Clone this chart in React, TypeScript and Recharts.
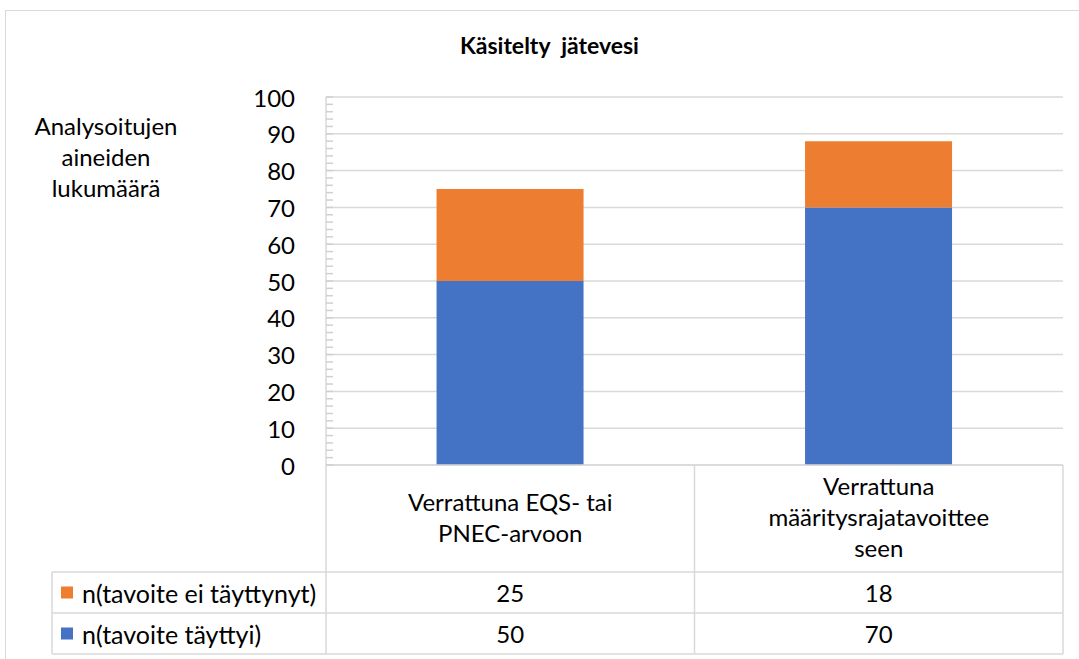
import { Bar, BarChart, CartesianGrid, XAxis, YAxis } from "recharts";

const categories = ["Verrattuna EQS- tai\nPNEC-arvoon", "Verrattuna\nmääritysrajatavoittee\nseen"];
const metValues = [50, 70];
const notMetValues = [25, 18];
const seriesNames = ["n(tavoite ei täyttynyt)", "n(tavoite täyttyi)"];
const yTicks = [0, 10, 20, 30, 40, 50, 60, 70, 80, 90, 100];
const minorTicks = [
  0, 2, 4, 6, 8, 10, 12, 14, 16, 18, 20, 22, 24, 26, 28, 30, 32, 34, 36, 38, 40, 42, 44, 46, 48, 50,
  52, 54, 56, 58, 60, 62, 64, 66, 68, 70, 72, 74, 76, 78, 80, 82, 84, 86, 88, 90, 92, 94, 96, 98, 100,
];

const data = categories.map((category, i) => ({
  category,
  met: metValues[i],
  notMet: notMetValues[i],
}));

const W = 1079;
const H = 659;
const Y_AXIS_W = 60;
const M = { top: 97, right: 16, bottom: 0, left: 326 - Y_AXIS_W };
const BAND = (W - 326 - M.right) / categories.length;
const FONT = "Lato, 'Open Sans', sans-serif";
const FS = 24;
const GRID = "#d9d9d9";
const BLUE = "#4472C4";
const ORANGE = "#ED7D31";
const LEGEND_LEFT = 52;

// rows of the data table, top to bottom
const tableRows = [
  { name: seriesNames[0], color: ORANGE, values: notMetValues },
  { name: seriesNames[1], color: BLUE, values: metValues },
];

// y axis: minor tick marks inside the plot every 2, labels every 10
function YTick(props: any) {
  const { x, y, payload } = props;
  const v = Number(payload.value);
  return (
    <g>
      <line x1={x} y1={y} x2={x + 7} y2={y} stroke="#d0d0d0" strokeWidth={1.5} />
      {yTicks.includes(v) && (
        <text
          x={x - 31}
          y={y}
          textAnchor="end"
          dominantBaseline="central"
          fontFamily={FONT}
          fontSize={FS}
          fill="#000"
        >
          {v}
        </text>
      )}
    </g>
  );
}

function TableTick(props: any) {
  const { x, y, payload } = props;
  const idx = categories.indexOf(payload.value);
  const half = BAND / 2;
  const left = x - half;
  const right = x + half;
  const lines = String(payload.value).split("\n");
  const catH = 107;
  const rowH = 41;
  const lineH = 31;
  const mid = y + catH / 2;
  const tableBottom = y + catH + rowH * tableRows.length;
  const lineStyle = { stroke: GRID, strokeWidth: 1.5 };
  return (
    <g>
      {idx === 0 && <line x1={left} y1={y} x2={left} y2={tableBottom} {...lineStyle} />}
      <line x1={right} y1={y} x2={right} y2={tableBottom} {...lineStyle} />
      {lines.map((ln, k) => (
        <text
          key={k}
          x={x}
          y={mid + (k - (lines.length - 1) / 2) * lineH - 2}
          textAnchor="middle"
          dominantBaseline="central"
          fontFamily={FONT}
          fontSize={FS}
          fill="#000"
        >
          {ln}
        </text>
      ))}
      {tableRows.map((row, r) => {
        const top = y + catH + rowH * r;
        return (
          <g key={r}>
            <line
              x1={idx === 0 ? LEGEND_LEFT : left}
              y1={top}
              x2={right}
              y2={top}
              {...lineStyle}
            />
            <text
              x={x}
              y={top + rowH / 2}
              textAnchor="middle"
              dominantBaseline="central"
              fontFamily={FONT}
              fontSize={FS}
              fill="#000"
            >
              {row.values[idx]}
            </text>
            {idx === 0 && (
              <g>
                <rect x={LEGEND_LEFT + 9} y={top + rowH / 2 - 6} width={12} height={12} fill={row.color} />
                <text
                  x={LEGEND_LEFT + 30}
                  y={top + rowH / 2}
                  dominantBaseline="central"
                  fontFamily={FONT}
                  fontSize={FS + 1}
                  fill="#000"
                >
                  {row.name}
                </text>
              </g>
            )}
          </g>
        );
      })}
      <line
        x1={idx === 0 ? LEGEND_LEFT : left}
        y1={tableBottom}
        x2={right}
        y2={tableBottom}
        {...lineStyle}
      />
      {idx === 0 && (
        <line x1={LEGEND_LEFT} y1={y + catH} x2={LEGEND_LEFT} y2={tableBottom} {...lineStyle} />
      )}
    </g>
  );
}

export default function App() {
  return (
    <div style={{ position: "absolute", left: 0, top: 0, width: W, height: H, overflow: "hidden", background: "#fff" }}>
      <div
        style={{
          position: "absolute",
          left: 5,
          top: 10,
          width: 1100,
          height: 700,
          border: `1.5px solid ${GRID}`,
        }}
      />
      <div
        style={{
          position: "absolute",
          left: 0,
          width: W,
          top: 31,
          textAlign: "center",
          paddingLeft: 20,
          boxSizing: "border-box",
          fontFamily: FONT,
          fontWeight: "bold",
          fontSize: 23,
          whiteSpace: "pre",
          color: "#000",
        }}
      >
        {"Käsitelty  jätevesi"}
      </div>
      <div
        style={{
          position: "absolute",
          left: 6,
          width: 200,
          top: 110,
          textAlign: "center",
          fontFamily: FONT,
          fontSize: FS,
          lineHeight: "31px",
          color: "#000",
        }}
      >
        Analysoitujen
        <br />
        aineiden
        <br />
        lukumäärä
      </div>
      <div style={{ position: "absolute", left: 0, top: 0 }}>
        <BarChart width={W} height={H} data={data} margin={M} barCategoryGap="30%">
          <CartesianGrid vertical={false} stroke={GRID} strokeWidth={1.5} horizontalValues={yTicks} />
          <YAxis
            width={Y_AXIS_W}
            domain={[0, 100]}
            ticks={minorTicks}
            interval={0}
            tickLine={false}
            tickSize={0}
            tickMargin={0}
            axisLine={{ stroke: GRID, strokeWidth: 1.5 }}
            tick={<YTick />}
          />
          <XAxis
            dataKey="category"
            height={H - M.top - 368}
            interval={0}
            tickLine={false}
            tickSize={0}
            tickMargin={0}
            axisLine={{ stroke: GRID, strokeWidth: 1.5 }}
            tick={<TableTick />}
          />
          <Bar dataKey="met" stackId="a" fill={BLUE} isAnimationActive={false} />
          <Bar dataKey="notMet" stackId="a" fill={ORANGE} isAnimationActive={false} />
        </BarChart>
      </div>
    </div>
  );
}
